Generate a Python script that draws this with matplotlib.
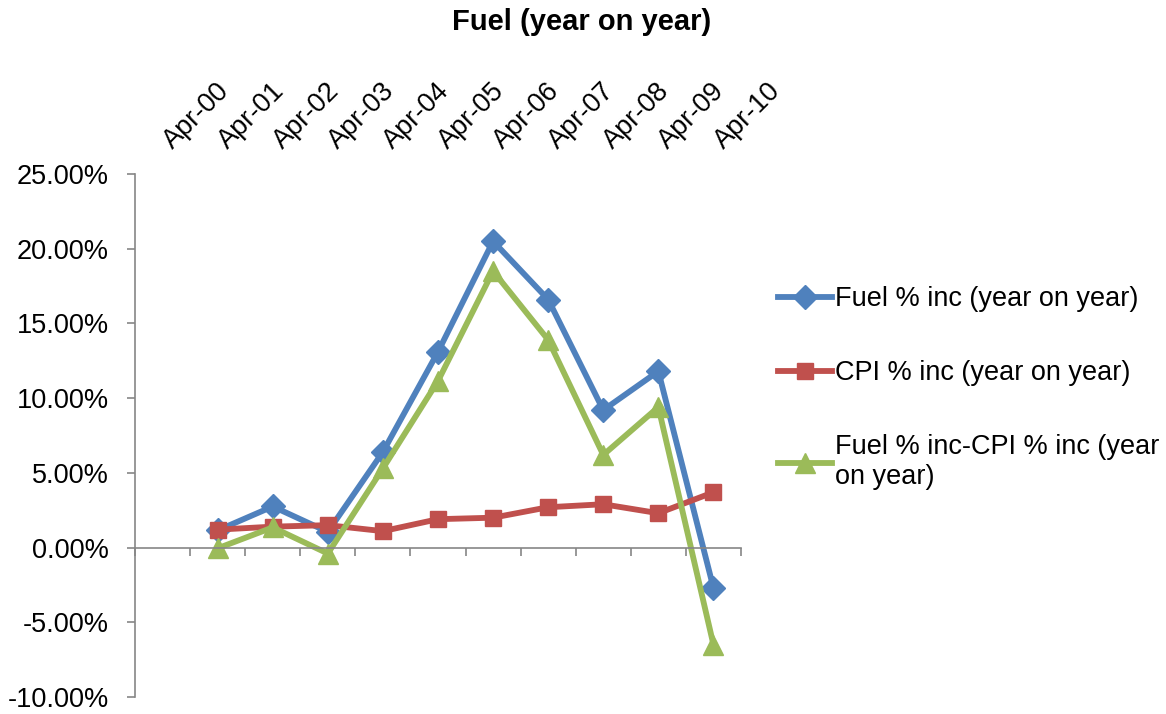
import numpy as np
import matplotlib

matplotlib.use("Agg")
import matplotlib.pyplot as plt
from matplotlib.ticker import FuncFormatter
from matplotlib.transforms import ScaledTranslation

plt.rcParams["font.family"] = ["Liberation Sans", "DejaVu Sans"]

months = ["Apr-00", "Apr-01", "Apr-02", "Apr-03", "Apr-04", "Apr-05",
          "Apr-06", "Apr-07", "Apr-08", "Apr-09", "Apr-10"]
fuel = [np.nan, 1.15, 2.75, 1.05, 6.4, 13.1, 20.5, 16.6, 9.2, 11.8, -2.7]
cpi = [np.nan, 1.2, 1.4, 1.5, 1.1, 1.9, 2.0, 2.7, 2.9, 2.3, 3.7]
fuel_minus_cpi = [np.nan, -0.05, 1.35, -0.4, 5.3, 11.15, 18.5, 13.9, 6.2, 9.4, -6.5]

fs = 19.5
grey = "#868686"

fig = plt.figure(figsize=(11.66, 7.14), dpi=100)
ax = fig.add_axes([135 / 1166, 1 - 697 / 714, 606 / 1166, 523 / 714])

x = np.arange(len(months))
ax.plot(x, fuel, color="#4F81BD", lw=4.2, marker="D", ms=12.5,
        label="Fuel % inc (year on year)")
ax.plot(x, cpi, color="#C0504D", lw=4.2, marker="s", ms=11.5,
        label="CPI % inc (year on year)")
ax.plot(x, fuel_minus_cpi, color="#9BBB59", lw=4.2, marker="^", ms=14,
        label="Fuel % inc-CPI % inc (year\non year)")

ax.set_xlim(-0.5, len(months) - 0.5)
ax.set_ylim(-10, 25)
ax.set_yticks(np.arange(-10, 26, 5))
ax.yaxis.set_major_formatter(FuncFormatter(lambda v, p: f"{v:.2f}%"))
ax.tick_params(axis="y", labelsize=fs, length=6, width=1.2, color=grey, pad=13)

ax.set_xticks(np.arange(-0.5, len(months), 1))
ax.set_xticklabels([])
ax.tick_params(axis="x", length=6, width=1.2, color=grey)

ax.spines["top"].set_visible(False)
ax.spines["right"].set_visible(False)
ax.spines["bottom"].set_position(("data", 0))
for s in ("left", "bottom"):
    ax.spines[s].set_color(grey)
    ax.spines[s].set_linewidth(1.2)

# category labels above the plot, rotated 45 degrees
shift = ScaledTranslation(14 / 100, 20 / 100, fig.dpi_scale_trans)
for xi, m in zip(x, months):
    ax.text(xi, 1, m, transform=ax.get_xaxis_transform() + shift,
            rotation=45, rotation_mode="anchor", ha="left", va="bottom",
            fontsize=fs, clip_on=False)

fig.text(582 / 1166, 1 - 22 / 714, "Fuel (year on year)", fontsize=21,
         fontweight="bold", ha="center", va="center")

fig.legend(loc="upper left", bbox_to_anchor=(778 / 1166, 1 - 286 / 714),
           frameon=False, fontsize=fs, handlelength=2.0, handletextpad=0.1,
           labelspacing=1.78, borderpad=0, borderaxespad=0)

fig.savefig("out.png", dpi=100)
